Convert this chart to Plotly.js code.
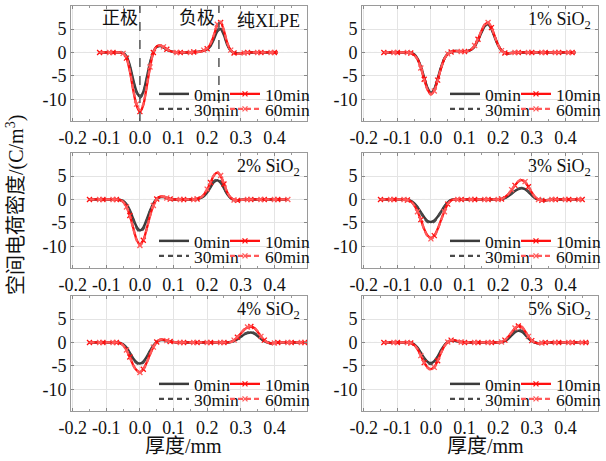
<!DOCTYPE html>
<html><head><meta charset="utf-8">
<script src="https://cdn.plot.ly/plotly-3.0.1.min.js"></script>
<style>html,body{margin:0;padding:0;background:#fff}#chart{width:606px;height:461px}</style>
</head><body><div id="chart"></div>
<script>
// ---------- data ----------
const seriesNames = ['0min', '10min', '30min', '60min'];
const panelLabels = ['纯XLPE', '1% SiO<sub>2</sub>', '2% SiO<sub>2</sub>', '3% SiO<sub>2</sub>', '4% SiO<sub>2</sub>', '5% SiO<sub>2</sub>'];
const xTickVals = [-0.2, -0.1, 0, 0.1, 0.2, 0.3, 0.4];
const xTickLabels = ['-0.2', '-0.1', '0.0', '0.1', '0.2', '0.3', '0.4'];
const yTickVals = [-10, -5, 0, 5];
const yTickLabels = ['-10', '-5', '0', '5'];
const electrodeX = [0, 0.235];

// panel 1: pure XLPE
const x1 = [-0.12,-0.11,-0.10,-0.09,-0.08,-0.07,-0.06,-0.05,-0.04,-0.03,-0.02,-0.01,0.00,0.01,0.02,0.03,0.04,0.05,0.06,0.07,0.08,0.09,0.10,0.11,0.12,0.13,0.14,0.15,0.16,0.17,0.18,0.19,0.20,0.21,0.22,0.23,0.24,0.25,0.26,0.27,0.28,0.29,0.30,0.31,0.32,0.33,0.34,0.35,0.36,0.37,0.38,0.39,0.40,0.41];
const p1_0  = [0,0,0,0,0,0,0,-0.1,-0.8,-2.8,-5.8,-8.3,-9.4,-8.4,-5.5,-2.2,0.1,1.2,1.4,1.1,0.6,0.3,0.1,0,0,0,0,0,0.1,0.1,0.2,0.4,0.7,1.4,2.8,4.5,5.0,3.7,1.6,0.4,-0.1,-0.2,-0.2,-0.1,0,0,0,0,0,0,0,0,0,0];
const p1_30 = [0,0,0,0,0,0,0,-0.1,-0.9,-3.0,-6.0,-8.6,-9.7,-8.6,-5.7,-2.3,0.1,1.2,1.4,1.1,0.6,0.3,0.1,0,0,0,0,0,0.1,0.1,0.2,0.4,0.8,1.5,3.0,4.7,5.3,3.9,1.7,0.4,-0.1,-0.2,-0.2,-0.1,0,0,0,0,0,0,0,0,0,0];
const p1_10 = [0,0,0,0,0,0,0,-0.2,-1.2,-4.0,-8.0,-11.3,-12.6,-11.2,-7.4,-3.2,0.0,1.3,1.5,1.2,0.7,0.3,0.1,0,0,0,0,0,0.1,0.1,0.2,0.4,0.8,1.8,3.6,5.8,6.4,4.6,2.0,0.5,-0.1,-0.3,-0.2,-0.1,0,0,0,0,0,0,0,0,0,0];
const p1_60 = [0,0,0,0,0,0,0,-0.2,-1.1,-3.8,-7.8,-11.0,-12.3,-11.0,-7.2,-3.1,0.0,1.3,1.5,1.2,0.7,0.3,0.1,0,0,0,0,0,0.1,0.1,0.2,0.5,0.9,1.9,3.8,6.0,6.6,4.7,2.0,0.5,-0.1,-0.3,-0.2,-0.1,0,0,0,0,0,0,0,0,0,0];

// panel 2: 1% SiO2
const x2 = [-0.14,-0.13,-0.12,-0.11,-0.10,-0.09,-0.08,-0.07,-0.06,-0.05,-0.04,-0.03,-0.02,-0.01,0.00,0.01,0.02,0.03,0.04,0.05,0.06,0.07,0.08,0.09,0.10,0.11,0.12,0.13,0.14,0.15,0.16,0.17,0.18,0.19,0.20,0.21,0.22,0.23,0.24,0.25,0.26,0.27,0.28,0.29,0.30,0.31,0.32,0.33,0.34,0.35,0.36,0.37,0.38,0.39,0.40,0.41,0.42,0.43];
const p2_0  = [0,0,0,0,0,0,0,0,-0.1,-0.4,-1.3,-3.0,-5.4,-7.6,-8.6,-7.8,-5.6,-3.2,-1.3,-0.3,0.1,0.3,0.3,0.2,0.2,0.3,0.6,1.3,2.6,4.2,5.6,6.0,5.0,3.2,1.5,0.4,-0.1,-0.2,-0.1,0,0,0,0,0,0,0,0,0,0,0,0,0,0,0,0,0,0,0];
const p2_30 = [0,0,0,0,0,0,0,0,-0.1,-0.4,-1.4,-3.1,-5.5,-7.7,-8.7,-7.9,-5.7,-3.3,-1.3,-0.3,0.1,0.3,0.3,0.2,0.2,0.3,0.6,1.3,2.7,4.3,5.7,6.1,5.1,3.3,1.5,0.4,-0.1,-0.2,-0.1,0,0,0,0,0,0,0,0,0,0,0,0,0,0,0,0,0,0,0];
const p2_10 = [0,0,0,0,0,0,0,0,-0.1,-0.5,-1.4,-3.2,-5.7,-7.9,-8.9,-8.1,-5.9,-3.4,-1.4,-0.3,0.1,0.3,0.3,0.2,0.2,0.3,0.6,1.4,2.8,4.5,5.9,6.3,5.3,3.4,1.6,0.4,-0.1,-0.2,-0.1,0,0,0,0,0,0,0,0,0,0,0,0,0,0,0,0,0,0,0];
const p2_60 = [0,0,0,0,0,0,0,0,-0.1,-0.5,-1.5,-3.3,-5.8,-8.0,-9.0,-8.2,-6.0,-3.4,-1.4,-0.3,0.1,0.3,0.3,0.2,0.2,0.3,0.7,1.5,2.9,4.6,6.0,6.4,5.4,3.4,1.6,0.4,-0.1,-0.2,-0.1,0,0,0,0,0,0,0,0,0,0,0,0,0,0,0,0,0,0,0];

// panel 3: 2% SiO2
const x3 = [-0.15,-0.14,-0.13,-0.12,-0.11,-0.10,-0.09,-0.08,-0.07,-0.06,-0.05,-0.04,-0.03,-0.02,-0.01,0.00,0.01,0.02,0.03,0.04,0.05,0.06,0.07,0.08,0.09,0.10,0.11,0.12,0.13,0.14,0.15,0.16,0.17,0.18,0.19,0.20,0.21,0.22,0.23,0.24,0.25,0.26,0.27,0.28,0.29,0.30,0.31,0.32,0.33,0.34,0.35,0.36,0.37,0.38,0.39,0.40,0.41,0.42,0.43,0.44];
const p3_0  = [0,0,0,0,0,0,0,0,0,-0.1,-0.3,-1.0,-2.3,-4.1,-5.8,-6.6,-6.0,-4.3,-2.4,-0.9,0.1,0.5,0.5,0.3,0.1,0,0,0,0,0,0,0,0.1,0.3,0.7,1.5,2.6,3.7,4.1,3.6,2.4,1.1,0.3,-0.1,-0.2,-0.1,0,0,0,0,0,0,0,0,0,0,0,0,0,0];
const p3_30 = [0,0,0,0,0,0,0,0,0,-0.1,-0.3,-1.1,-2.5,-4.4,-6.1,-6.9,-6.3,-4.5,-2.5,-0.9,0.1,0.5,0.5,0.3,0.1,0,0,0,0,0,0,0,0.1,0.3,0.8,1.6,2.8,3.9,4.3,3.8,2.5,1.1,0.3,-0.1,-0.2,-0.1,0,0,0,0,0,0,0,0,0,0,0,0,0,0];
const p3_10 = [0,0,0,0,0,0,0,0,0,-0.1,-0.5,-1.5,-3.4,-6.0,-8.5,-9.6,-8.7,-6.3,-3.5,-1.3,0.1,0.6,0.6,0.3,0.1,0,0,0,0,0,0,0,0.1,0.4,1.0,2.1,3.6,5.1,5.7,5.0,3.3,1.5,0.4,-0.1,-0.2,-0.1,0,0,0,0,0,0,0,0,0,0,0,0,0,0];
const p3_60 = [0,0,0,0,0,0,0,0,0,-0.1,-0.5,-1.6,-3.5,-6.2,-8.7,-9.8,-8.9,-6.4,-3.6,-1.3,0.1,0.6,0.6,0.3,0.1,0,0,0,0,0,0,0,0.1,0.4,1.0,2.2,3.7,5.2,5.9,5.1,3.4,1.5,0.4,-0.1,-0.2,-0.1,0,0,0,0,0,0,0,0,0,0,0,0,0,0];

// panel 4: 3% SiO2
const x4 = [-0.15,-0.14,-0.13,-0.12,-0.11,-0.10,-0.09,-0.08,-0.07,-0.06,-0.05,-0.04,-0.03,-0.02,-0.01,0.00,0.01,0.02,0.03,0.04,0.05,0.06,0.07,0.08,0.09,0.10,0.11,0.12,0.13,0.14,0.15,0.16,0.17,0.18,0.19,0.20,0.21,0.22,0.23,0.24,0.25,0.26,0.27,0.28,0.29,0.30,0.31,0.32,0.33,0.34,0.35,0.36,0.37,0.38,0.39,0.40,0.41,0.42,0.43,0.44,0.45];
const p4_0  = [0,0,0,0,0,0,0,0,-0.1,-0.3,-0.8,-1.6,-2.7,-3.8,-4.6,-4.8,-4.5,-3.7,-2.6,-1.5,-0.6,-0.1,0,0,0,0,0,0,0,0,0,0,0,0,0,0,0.1,0.3,0.7,1.2,1.8,2.2,2.4,2.2,1.6,0.9,0.3,0,-0.1,-0.2,-0.1,0,0,0,0,0,0,0,0,0,0];
const p4_30 = [0,0,0,0,0,0,0,0,-0.1,-0.3,-0.9,-1.7,-2.9,-4.0,-4.8,-5.0,-4.7,-3.8,-2.7,-1.5,-0.6,-0.1,0,0,0,0,0,0,0,0,0,0,0,0,0,0,0.1,0.3,0.7,1.3,1.9,2.3,2.5,2.3,1.7,0.9,0.3,0,-0.1,-0.2,-0.1,0,0,0,0,0,0,0,0,0,0];
const p4_10 = [0,0,0,0,0,0,0,0,-0.1,-0.4,-1.2,-2.5,-4.3,-6.3,-7.7,-8.2,-7.7,-6.3,-4.4,-2.5,-1.0,-0.2,0,0,0,0,0,0,0,0,0,0,0,0,0,0,0.1,0.5,1.1,2.0,3.0,3.8,4.1,3.7,2.7,1.5,0.5,0,-0.2,-0.2,-0.1,0,0,0,0,0,0,0,0,0,0];
const p4_60 = [0,0,0,0,0,0,0,0,-0.1,-0.4,-1.2,-2.6,-4.4,-6.4,-7.9,-8.4,-7.9,-6.4,-4.5,-2.6,-1.0,-0.2,0,0,0,0,0,0,0,0,0,0,0,0,0,0,0.1,0.5,1.1,2.1,3.1,3.9,4.3,3.8,2.8,1.5,0.5,0,-0.2,-0.2,-0.1,0,0,0,0,0,0,0,0,0,0];

// panel 5: 4% SiO2
const x5 = [-0.15,-0.14,-0.13,-0.12,-0.11,-0.10,-0.09,-0.08,-0.07,-0.06,-0.05,-0.04,-0.03,-0.02,-0.01,0.00,0.01,0.02,0.03,0.04,0.05,0.06,0.07,0.08,0.09,0.10,0.11,0.12,0.13,0.14,0.15,0.16,0.17,0.18,0.19,0.20,0.21,0.22,0.23,0.24,0.25,0.26,0.27,0.28,0.29,0.30,0.31,0.32,0.33,0.34,0.35,0.36,0.37,0.38,0.39,0.40,0.41,0.42,0.43,0.44,0.45,0.46,0.47,0.48,0.49,0.50];
const p5_0  = [0,0,0,0,0,0,0,0,0,-0.1,-0.4,-1.1,-2.2,-3.4,-4.2,-4.5,-4.1,-3.1,-1.8,-0.7,0.1,0.5,0.5,0.3,0.2,0.1,0,0,0,0,0,0,0,0,0,0,0,0,0,0,0,0,0.1,0.3,0.7,1.2,1.7,2.0,2.1,1.9,1.4,0.8,0.3,0,-0.2,-0.1,0,0,0,0,0,0,0,0,0,0];
const p5_30 = [0,0,0,0,0,0,0,0,0,-0.1,-0.4,-1.2,-2.3,-3.6,-4.4,-4.7,-4.3,-3.2,-1.9,-0.7,0.1,0.5,0.5,0.3,0.2,0.1,0,0,0,0,0,0,0,0,0,0,0,0,0,0,0,0,0.1,0.3,0.8,1.3,1.8,2.1,2.3,2.0,1.5,0.8,0.3,0,-0.2,-0.1,0,0,0,0,0,0,0,0,0,0];
const p5_10 = [0,0,0,0,0,0,0,0,0,-0.1,-0.6,-1.6,-3.1,-4.8,-5.9,-6.3,-5.7,-4.3,-2.5,-1.0,0.1,0.6,0.6,0.4,0.2,0.1,0,0,0,0,0,0,0,0,0,0,0,0,0,0,0,0,0.1,0.5,1.1,1.9,2.7,3.2,3.4,3.1,2.3,1.3,0.5,0,-0.2,-0.1,0,0,0,0,0,0,0,0,0,0];
const p5_60 = [0,0,0,0,0,0,0,0,0,-0.1,-0.6,-1.6,-3.2,-4.9,-6.0,-6.4,-5.8,-4.4,-2.6,-1.0,0.1,0.6,0.6,0.4,0.2,0.1,0,0,0,0,0,0,0,0,0,0,0,0,0,0,0,0,0.1,0.5,1.2,2.0,2.8,3.3,3.5,3.2,2.4,1.3,0.5,0,-0.2,-0.1,0,0,0,0,0,0,0,0,0,0];

// panel 6: 5% SiO2
const x6 = [-0.14,-0.13,-0.12,-0.11,-0.10,-0.09,-0.08,-0.07,-0.06,-0.05,-0.04,-0.03,-0.02,-0.01,0.00,0.01,0.02,0.03,0.04,0.05,0.06,0.07,0.08,0.09,0.10,0.11,0.12,0.13,0.14,0.15,0.16,0.17,0.18,0.19,0.20,0.21,0.22,0.23,0.24,0.25,0.26,0.27,0.28,0.29,0.30,0.31,0.32,0.33,0.34,0.35,0.36,0.37,0.38,0.39,0.40,0.41,0.42,0.43,0.44,0.45,0.46,0.47];
const p6_0  = [0,0,0,0,0,0,0,0,-0.1,-0.4,-1.1,-2.2,-3.3,-4.1,-4.4,-4.0,-3.0,-1.7,-0.6,0.1,0.4,0.4,0.2,0.1,0,0,0,0,0,0,0,0,0,0,0,0.1,0.3,0.8,1.5,2.2,2.5,2.3,1.7,0.9,0.3,0,-0.2,-0.1,0,0,0,0,0,0,0,0,0,0,0,0,0,0];
const p6_30 = [0,0,0,0,0,0,0,0,-0.1,-0.4,-1.2,-2.3,-3.5,-4.3,-4.6,-4.2,-3.1,-1.8,-0.6,0.1,0.4,0.4,0.2,0.1,0,0,0,0,0,0,0,0,0,0,0,0.1,0.3,0.9,1.6,2.4,2.7,2.5,1.8,0.9,0.3,0,-0.2,-0.1,0,0,0,0,0,0,0,0,0,0,0,0,0,0];
const p6_10 = [0,0,0,0,0,0,0,0,-0.1,-0.5,-1.4,-2.8,-4.3,-5.3,-5.7,-5.2,-3.9,-2.2,-0.8,0.1,0.5,0.5,0.3,0.1,0,0,0,0,0,0,0,0,0,0,0,0.1,0.5,1.2,2.1,3.0,3.5,3.3,2.4,1.3,0.4,0,-0.2,-0.1,0,0,0,0,0,0,0,0,0,0,0,0,0,0];
const p6_60 = [0,0,0,0,0,0,0,0,-0.1,-0.5,-1.4,-2.8,-4.4,-5.4,-5.8,-5.3,-4.0,-2.3,-0.8,0.1,0.5,0.5,0.3,0.1,0,0,0,0,0,0,0,0,0,0,0,0.1,0.5,1.3,2.2,3.1,3.6,3.4,2.5,1.3,0.4,0,-0.2,-0.1,0,0,0,0,0,0,0,0,0,0,0,0,0,0];

// ---------- build ----------
const panels = [
  {x: x1, s: {'0min': p1_0, '10min': p1_10, '30min': p1_30, '60min': p1_60}},
  {x: x2, s: {'0min': p2_0, '10min': p2_10, '30min': p2_30, '60min': p2_60}},
  {x: x3, s: {'0min': p3_0, '10min': p3_10, '30min': p3_30, '60min': p3_60}},
  {x: x4, s: {'0min': p4_0, '10min': p4_10, '30min': p4_30, '60min': p4_60}},
  {x: x5, s: {'0min': p5_0, '10min': p5_10, '30min': p5_30, '60min': p5_60}},
  {x: x6, s: {'0min': p6_0, '10min': p6_10, '30min': p6_30, '60min': p6_60}}
];

const W = 606, H = 461;
const colLeft = [71, 362], colW = 236;
const rowTop = [6, 153, 296], rowH = 115;

// legend slot: col (0/1) and row (0/1) inside each panel
const styles = {
  '0min':  {line: {color: '#3b3b3b', width: 2.5}, mode: 'lines', slot: [0, 0]},
  '30min': {line: {color: '#4a4a4a', width: 2.2, dash: '5px,4px'}, mode: 'lines', slot: [0, 1]},
  '10min': {line: {color: '#ff1010', width: 2.3}, mode: 'lines+markers', slot: [1, 0]},
  '60min': {line: {color: '#ff5a5a', width: 2.2, dash: '5px,3px'}, mode: 'lines+markers', slot: [1, 1]}
};
const drawOrder = ['0min', '30min', '10min', '60min'];

const serif = 'Liberation Serif, Noto Sans CJK SC, serif';
const data = [];
const layout = {
  width: W, height: H,
  margin: {l: 0, r: 0, t: 0, b: 0},
  paper_bgcolor: '#fff', plot_bgcolor: '#fff',
  showlegend: true,
  font: {family: serif, size: 18, color: '#111'},
  annotations: [], shapes: []
};

let legCount = 0;
panels.forEach((p, i) => {
  const n = i + 1;
  const sfx = n === 1 ? '' : String(n);
  const col = i % 2, row = Math.floor(i / 2);
  const L = colLeft[col], T = rowTop[row];

  drawOrder.forEach(name => {
    const st = styles[name];
    legCount++;
    const legId = legCount === 1 ? 'legend' : 'legend' + legCount;
    const tr = {
      type: 'scatter', x: p.x, y: p.s[name], name: name,
      xaxis: 'x' + sfx, yaxis: 'y' + sfx,
      mode: st.mode, line: Object.assign({shape: 'spline', smoothing: 0.8}, st.line),
      legend: legId, hoverinfo: 'skip'
    };
    if (st.mode.indexOf('markers') >= 0) {
      tr.marker = {symbol: 'x-thin', size: 5, color: st.line.color,
                   line: {color: st.line.color, width: 1.3},
                   maxdisplayed: Math.ceil(p.x.length / 4)};
    }
    data.push(tr);
    layout[legId] = {
      x: (L + 83 + st.slot[0] * 71) / W, xanchor: 'left',
      y: 1 - (T + 88 + st.slot[1] * 15) / H, yanchor: 'middle',
      orientation: 'v', itemwidth: 30,
      bgcolor: 'rgba(0,0,0,0)', borderwidth: 0,
      font: {family: serif, size: 17.5, color: '#111'}
    };
  });

  layout['xaxis' + sfx] = {
    domain: [L / W, (L + colW) / W], anchor: 'y' + sfx,
    range: [-0.205, 0.497], tickvals: xTickVals, ticktext: xTickLabels,
    showgrid: true, gridcolor: '#e4e4e4', gridwidth: 1, zeroline: false,
    showline: true, linecolor: '#9a9a9a', linewidth: 1, mirror: 'ticks',
    ticks: 'inside', ticklen: 3, tickcolor: '#888',
    minor: {ticks: 'inside', ticklen: 2, dtick: 0.05, tickcolor: '#999', showgrid: false},
    tickfont: {family: serif, size: 18, color: '#111'}, fixedrange: true
  };
  layout['yaxis' + sfx] = {
    domain: [(H - T - rowH) / H, (H - T) / H], anchor: 'x' + sfx,
    range: [-14.6, 9.9], tickvals: yTickVals, ticktext: yTickLabels,
    showgrid: true, gridcolor: '#e4e4e4', gridwidth: 1, zeroline: false,
    showline: true, linecolor: '#9a9a9a', linewidth: 1, mirror: 'ticks',
    ticks: 'inside', ticklen: 3, tickcolor: '#888',
    tickfont: {family: serif, size: 18, color: '#111'}, fixedrange: true
  };

  // dotted zero line
  layout.shapes.push({type: 'line', xref: 'x' + sfx + ' domain', x0: 0, x1: 1,
    yref: 'y' + sfx, y0: 0, y1: 0, layer: 'below',
    line: {color: '#999', width: 1, dash: 'dot'}});

  // panel label
  layout.annotations.push({xref: 'x' + sfx + ' domain', yref: 'y' + sfx + ' domain',
    x: 0.98, y: 0.87, xanchor: 'right', yanchor: 'middle', showarrow: false,
    text: panelLabels[i], font: {family: serif, size: 18, color: '#111'}});
});

// electrode markers in the pure-XLPE panel
electrodeX.forEach(xv => {
  layout.shapes.push({type: 'line', xref: 'x', x0: xv, x1: xv, yref: 'y domain', y0: 0, y1: 1,
    line: {color: '#555', width: 1.5, dash: 'dash'}});
});
layout.annotations.push(
  {xref: 'x domain', yref: 'y domain', x: 0.208, y: 0.895, xanchor: 'center', yanchor: 'middle', showarrow: false,
   text: '正极', font: {family: serif, size: 18, color: '#111'}},
  {xref: 'x domain', yref: 'y domain', x: 0.534, y: 0.895, xanchor: 'center', yanchor: 'middle', showarrow: false,
   text: '负极', font: {family: serif, size: 18, color: '#111'}},
  {xref: 'paper', yref: 'paper', x: 15 / W, y: 1 - 205 / H, xanchor: 'center', yanchor: 'middle',
   textangle: -90, showarrow: false,
   text: '空间电荷密度/(C/m<sup>3</sup>)', font: {family: serif, size: 20, color: '#111'}},
  {xref: 'paper', yref: 'paper', x: 183 / W, y: 1 - 446 / H, xanchor: 'center', yanchor: 'middle', showarrow: false,
   text: '厚度/mm', font: {family: serif, size: 20, color: '#111'}},
  {xref: 'paper', yref: 'paper', x: 485 / W, y: 1 - 446 / H, xanchor: 'center', yanchor: 'middle', showarrow: false,
   text: '厚度/mm', font: {family: serif, size: 20, color: '#111'}}
);

Plotly.newPlot('chart', data, layout, {staticPlot: true, displayModeBar: false});
</script>
</body></html>
